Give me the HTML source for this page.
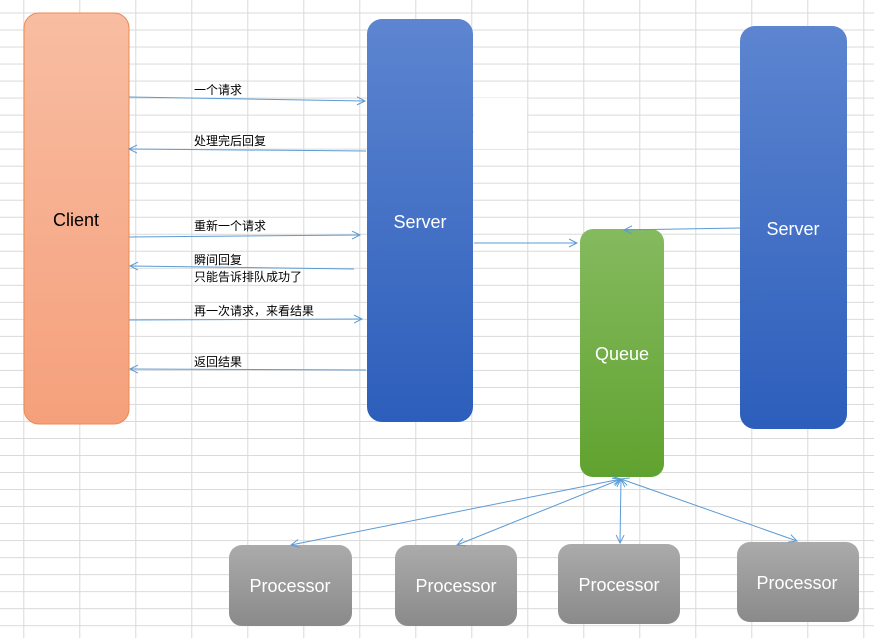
<!DOCTYPE html>
<html><head><meta charset="utf-8"><style>
html,body{margin:0;padding:0;background:#fff;}
svg{display:block;}
text{font-family:"Liberation Sans","Noto Sans CJK SC",sans-serif;}
</style></head><body>
<svg width="874" height="638" viewBox="0 0 874 638" xmlns="http://www.w3.org/2000/svg">
<defs>
<pattern id="grid" patternUnits="userSpaceOnUse" x="23.3" y="12.5" width="56" height="17.02">
<path d="M0 0.5 H56 M0.5 0 V17.02" stroke="#d9d9d9" stroke-width="1" fill="none"/>
</pattern>
<linearGradient id="gc" x1="0" y1="0" x2="0" y2="1"><stop offset="0" stop-color="#f8bda2"/><stop offset="1" stop-color="#f5a07b"/></linearGradient>
<linearGradient id="gs" x1="0" y1="0" x2="0" y2="1"><stop offset="0" stop-color="#5d85d0"/><stop offset="1" stop-color="#2c5ebb"/></linearGradient>
<linearGradient id="gq" x1="0" y1="0" x2="0" y2="1"><stop offset="0" stop-color="#85ba5f"/><stop offset="1" stop-color="#60a22f"/></linearGradient>
<linearGradient id="gp" x1="0" y1="0" x2="0" y2="1"><stop offset="0" stop-color="#ababab"/><stop offset="1" stop-color="#8a8a8a"/></linearGradient>
<marker id="ah" markerWidth="10" markerHeight="10" refX="9" refY="5" orient="auto-start-reverse" markerUnits="userSpaceOnUse">
<path d="M1 1 L9 5 L1 9" fill="none" stroke="#5b9bd5" stroke-width="1"/>
</marker>
</defs>
<rect width="874" height="638" fill="url(#grid)"/>
<rect x="474" y="98" width="53" height="51" fill="#fff"/>

<rect x="24" y="13" width="105" height="411" rx="15" fill="url(#gc)" stroke="#ed8a4f" stroke-width="1"/>
<rect x="367" y="19" width="106" height="403" rx="15" fill="url(#gs)"/>
<rect x="740" y="26" width="107" height="403" rx="15" fill="url(#gs)"/>
<rect x="580" y="229" width="84" height="248" rx="13" fill="url(#gq)"/>
<rect x="229" y="545" width="123" height="81" rx="13" fill="url(#gp)"/>
<rect x="395" y="545" width="122" height="81" rx="13" fill="url(#gp)"/>
<rect x="558" y="544" width="122" height="80" rx="13" fill="url(#gp)"/>
<rect x="737" y="542" width="122" height="80" rx="13" fill="url(#gp)"/>

<text x="76" y="226" font-size="18" text-anchor="middle" fill="#000">Client</text>
<text x="420" y="228" font-size="18" text-anchor="middle" fill="#fff">Server</text>
<text x="793" y="235" font-size="18" text-anchor="middle" fill="#fff">Server</text>
<text x="622" y="360" font-size="18" text-anchor="middle" fill="#fff">Queue</text>
<text x="290" y="592" font-size="18" text-anchor="middle" fill="#fff">Processor</text>
<text x="456" y="592" font-size="18" text-anchor="middle" fill="#fff">Processor</text>
<text x="619" y="591" font-size="18" text-anchor="middle" fill="#fff">Processor</text>
<text x="797" y="589" font-size="18" text-anchor="middle" fill="#fff">Processor</text>

<g stroke="#5b9bd5" stroke-width="1" fill="none">
<line x1="129" y1="97" x2="365" y2="101" marker-end="url(#ah)"/>
<line x1="366" y1="151" x2="129" y2="149" marker-end="url(#ah)"/>
<line x1="129" y1="237" x2="360" y2="235" marker-end="url(#ah)"/>
<line x1="354" y1="269" x2="130" y2="266" marker-end="url(#ah)"/>
<line x1="129" y1="320" x2="362" y2="319" marker-end="url(#ah)"/>
<line x1="366" y1="370" x2="130" y2="369" marker-end="url(#ah)"/>
<line x1="474" y1="243" x2="577" y2="243" marker-end="url(#ah)"/>
<line x1="740" y1="228" x2="624" y2="230" marker-end="url(#ah)"/>
<line x1="621" y1="479" x2="291" y2="545" marker-start="url(#ah)" marker-end="url(#ah)"/>
<line x1="621" y1="479" x2="457" y2="545" marker-start="url(#ah)" marker-end="url(#ah)"/>
<line x1="621" y1="479" x2="620" y2="543" marker-start="url(#ah)" marker-end="url(#ah)"/>
<line x1="621" y1="479" x2="797" y2="541" marker-start="url(#ah)" marker-end="url(#ah)"/>
</g>

<g font-size="12" fill="#000">
<text x="194" y="94">一个请求</text>
<text x="194" y="145">处理完后回复</text>
<text x="194" y="230">重新一个请求</text>
<text x="194" y="264">瞬间回复</text>
<text x="194" y="281">只能告诉排队成功了</text>
<text x="194" y="315">再一次请求，来看结果</text>
<text x="194" y="366">返回结果</text>
</g>
</svg>
</body></html>
